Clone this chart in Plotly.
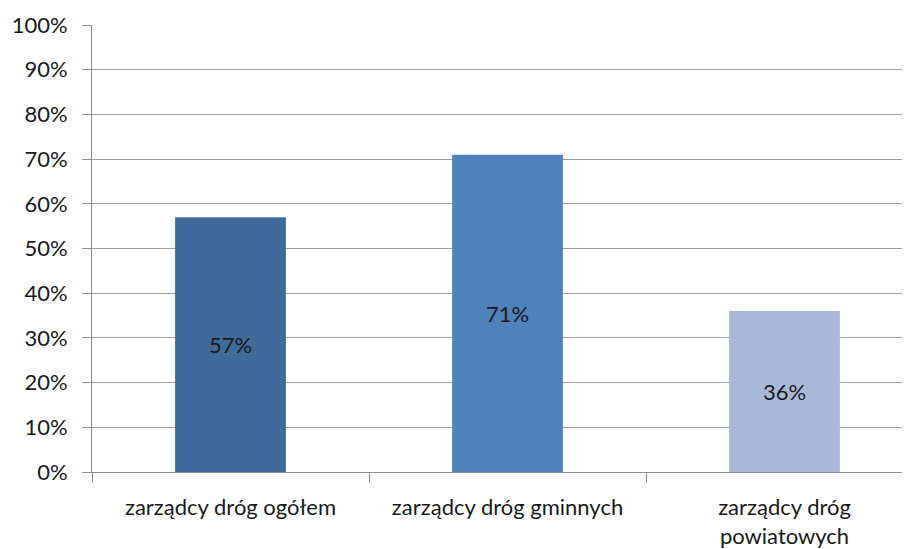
import plotly.graph_objects as go

categories = ["zarządcy dróg ogółem", "zarządcy dróg gminnych", "zarządcy dróg<br>powiatowych"]
values = [0.57, 0.71, 0.36]
labels = ["57%", "71%", "36%"]
colors = ["#406A9A", "#4F81BD", "#A8B9D8"]
y_ticks = [i / 10 for i in range(11)]

FONT = dict(family="Lato, 'Open Sans', sans-serif", size=22, color="#1a1a1a")

fig = go.Figure(go.Bar(
    x=categories,
    y=values,
    width=0.4,
    marker=dict(color=colors, line=dict(width=0)),
    text=labels,
    textposition="inside",
    insidetextanchor="middle",
    textfont=dict(family=FONT["family"], size=22, color="#1a1a1a"),
    textangle=0,
))

# page body adds 8px, so margins are offset to keep the plot where it belongs
fig.update_layout(
    width=910,
    height=549,
    plot_bgcolor="white",
    paper_bgcolor="white",
    font=FONT,
    showlegend=False,
    margin=dict(l=84, r=8, t=17, b=85),
    bargap=0.6,
    xaxis=dict(
        range=[-0.5, 2.453],
        automargin=False,
        showline=True,
        linecolor="#8C8C8C",
        linewidth=1,
        ticks="outside",
        tickson="boundaries",
        ticklen=10,
        tickcolor="#8C8C8C",
        ticklabelstandoff=16,
        showgrid=False,
        tickfont=FONT,
    ),
    yaxis=dict(
        range=[0, 1.0],
        automargin=False,
        tickvals=y_ticks,
        tickformat=".0%",
        showline=True,
        linecolor="#8C8C8C",
        linewidth=1,
        ticks="outside",
        ticklen=9,
        tickcolor="#8C8C8C",
        ticklabelstandoff=10,
        showgrid=True,
        gridcolor="#9E9E9E",
        gridwidth=1,
        zeroline=False,
        tickfont=FONT,
    ),
)

fig.write_html("out.html")
